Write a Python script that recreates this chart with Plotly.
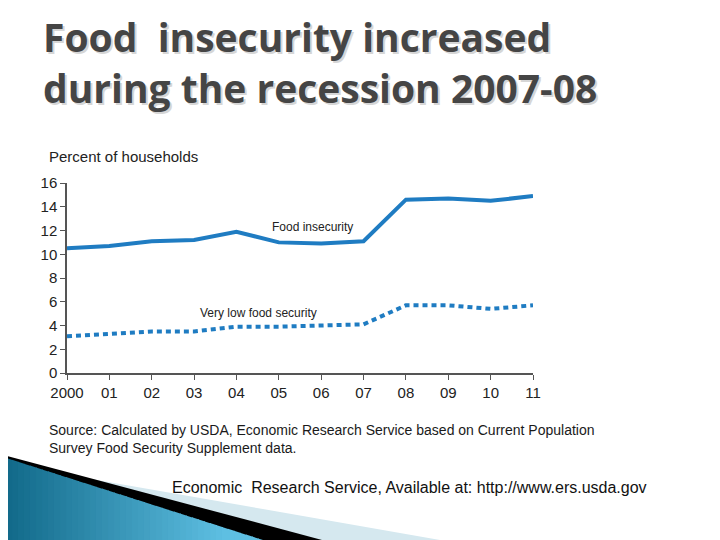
import plotly.graph_objects as go

# data
years = [2000, 2001, 2002, 2003, 2004, 2005, 2006, 2007, 2008, 2009, 2010, 2011]
year_labels = ["2000", "01", "02", "03", "04", "05", "06", "07", "08", "09", "10", "11"]
food_insecurity = [10.5, 10.7, 11.1, 11.2, 11.9, 11.0, 10.9, 11.1, 14.6, 14.7, 14.5, 14.9]
very_low_food_security = [3.1, 3.3, 3.5, 3.5, 3.9, 3.9, 4.0, 4.1, 5.7, 5.7, 5.4, 5.7]
y_ticks = [0, 2, 4, 6, 8, 10, 12, 14, 16]

blue = "#1f7cc2"
axis_col = "#555555"

fig = go.Figure()
fig.add_trace(go.Scatter(x=years, y=food_insecurity, mode="lines",
                         line=dict(color=blue, width=4), cliponaxis=False,
                         name="Food insecurity"))
fig.add_trace(go.Scatter(x=years, y=very_low_food_security, mode="lines",
                         line=dict(color=blue, width=4, dash="5px,4px"),
                         cliponaxis=False, name="Very low food security"))

# page has an 8px body margin, so the figure is a little smaller than the window
fig.update_layout(
    width=712, height=532,
    margin=dict(l=59, r=187, t=175, b=167),
    paper_bgcolor="white", plot_bgcolor="white",
    showlegend=False,
    font=dict(family="Liberation Sans, Arial, sans-serif", size=14, color="#222222"),
)
fig.update_xaxes(range=[2000, 2011], tickvals=years, ticktext=year_labels,
                 showgrid=False, zeroline=False, showline=True, linecolor=axis_col,
                 linewidth=1.5, ticks="outside", ticklen=5, tickcolor=axis_col,
                 tickfont=dict(size=15))
fig.update_yaxes(range=[0, 16], tickvals=y_ticks, showgrid=False, zeroline=False,
                 showline=True, linecolor=axis_col, linewidth=1.5, ticks="outside",
                 ticklen=5, tickcolor=axis_col, tickfont=dict(size=15))

# series labels
fig.add_annotation(x=2005.8, y=12.3, text="Food insecurity", showarrow=False,
                   font=dict(size=12, color="#222222"))
fig.add_annotation(x=2004.53, y=5.07, text="Very low food security", showarrow=False,
                   font=dict(size=12, color="#222222"))

# axis caption
fig.add_annotation(xref="paper", yref="paper", x=-0.043, y=1.14, xanchor="left",
                   yanchor="middle", text="Percent of households", showarrow=False,
                   font=dict(size=15, color="#222222"))

# title with a soft grey shadow like the slide
fig.add_annotation(xref="paper", yref="paper", x=-0.055, y=1.92, xanchor="left",
                   yanchor="top", align="left", showarrow=False,
                   text="Food  insecurity increased<br>during the recession 2007-08",
                   font=dict(family="Open Sans, DejaVu Sans, sans-serif", size=39,
                             weight=700, color="#454545",
                             shadow="2px 2px 0px #d6d6d6"))

# source notes
fig.add_annotation(xref="paper", yref="paper", x=-0.043, y=-0.245, xanchor="left",
                   yanchor="top", align="left", showarrow=False,
                   text="Source: Calculated by USDA, Economic Research Service based on Current Population"
                        "<br>Survey Food Security Supplement data.",
                   font=dict(size=14, color="#1a1a1a"))
fig.add_annotation(xref="paper", yref="paper", x=0.222, y=-0.6, xanchor="left",
                   yanchor="middle", showarrow=False,
                   text="Economic  Research Service, Available at: http://www.ers.usda.gov",
                   font=dict(size=16, color="#111111"))


# decorative wedge at bottom-left, given in page pixels
def px(x, y):
    return (x - 67) / 466, (540 - 167 - y) / 190


def poly(points, color):
    path = "M " + " L ".join(f"{px(x, y)[0]:.4f},{px(x, y)[1]:.4f}" for x, y in points) + " Z"
    fig.add_shape(type="path", xref="paper", yref="paper", path=path,
                  fillcolor=color, line=dict(width=0), layer="below")


poly([(0, 463), (440, 540), (0, 540)], "#d5e8ef")
poly([(0, 454), (322, 540), (0, 540)], "#000000")

# blue gradient body in thin strips
c0 = (0x10, 0x68, 0x88)
c1 = (0x5e, 0xbf, 0xe2)
step = 6
for x0 in range(0, 263, step):
    x1 = min(x0 + step + 1, 263)
    t = min(x0 / 220, 1.0)
    col = "#%02x%02x%02x" % tuple(int(a + (b - a) * t) for a, b in zip(c0, c1))
    top0 = 456 + 84 * x0 / 263
    top1 = 456 + 84 * x1 / 263
    poly([(x0, top0), (x1, top1), (x1, 540), (x0, 540)], col)

fig.write_html("out.html")
